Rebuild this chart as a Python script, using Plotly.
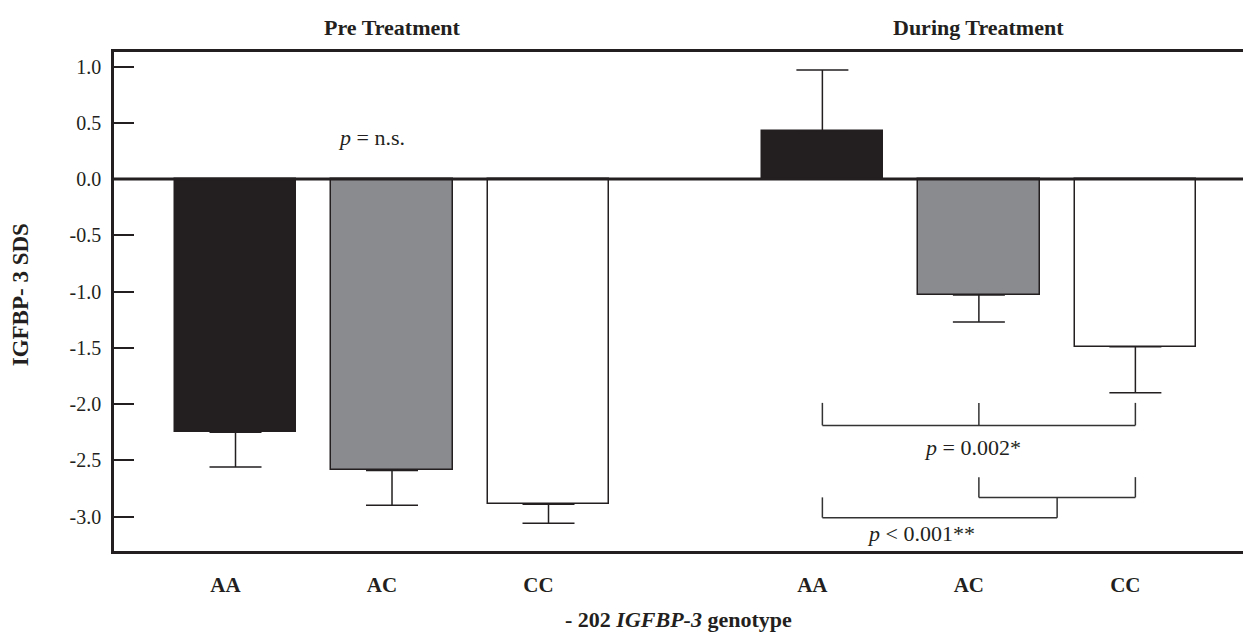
import plotly.graph_objects as go

# ---- data ----
groups = ["Pre Treatment", "During Treatment"]
genotypes = ["AA", "AC", "CC"]
pre_values = [-2.25, -2.59, -2.89]
pre_errors = [0.31, 0.31, 0.17]
during_values = [0.43, -1.03, -1.49]
during_errors = [0.54, 0.24, 0.41]
bar_colors = ["#231f20", "#8a8b8f", "#ffffff"]
y_ticks = [1.0, 0.5, 0.0, -0.5, -1.0, -1.5, -2.0, -2.5, -3.0]

# significance brackets (y levels in SDS units)
br1_top, br1_bot = -1.99, -2.19          # AA / AC / CC  p = 0.002*
br2_top, br2_bot = -2.65, -2.83          # AC - CC
br3_top, br3_bot = -2.83, -3.01          # AA - (AC,CC)  p < 0.001**
p_ns_y = 0.37
p_002_y = -2.39
p_001_y = -3.15

INK = "#231f20"
FONT = "Liberation Serif"

group_gap = 1.75
pos_pre = [i for i in range(len(genotypes))]
pos_dur = [i + len(genotypes) - 1 + group_gap for i in range(len(genotypes))]
positions = pos_pre + pos_dur
values = pre_values + during_values
errors = pre_errors + during_errors
err_plus = [e if v > 0 else 0 for v, e in zip(values, errors)]
err_minus = [e if v < 0 else 0 for v, e in zip(values, errors)]

fig = go.Figure()
fig.add_trace(go.Bar(
    x=positions, y=values, width=0.775,
    marker=dict(color=bar_colors * 2, line=dict(color=INK, width=1.5)),
    error_y=dict(type="data", symmetric=False, array=err_plus, arrayminus=err_minus,
                 color=INK, thickness=1.5, width=26),
    showlegend=False, hoverinfo="skip",
))

shapes = []
def seg(x0, y0, x1, y1):
    shapes.append(dict(type="line", xref="x", yref="y", x0=x0, y0=y0, x1=x1, y1=y1,
                       line=dict(color="#333333", width=1.5), layer="above"))

aa, ac, cc = pos_dur
mid = (ac + cc) / 2
# bracket 1
for xx in (aa, ac, cc):
    seg(xx, br1_top, xx, br1_bot)
seg(aa, br1_bot, cc, br1_bot)
# bracket 2
seg(ac, br2_top, ac, br2_bot)
seg(cc, br2_top, cc, br2_bot)
seg(ac, br2_bot, cc, br2_bot)
# bracket 3
seg(aa, br3_top, aa, br3_bot)
seg(aa, br3_bot, mid, br3_bot)
seg(mid, br3_bot, mid, br3_top)

# zero line
shapes.append(dict(type="line", xref="paper", yref="y", x0=0, x1=1, y0=0, y1=0,
                   line=dict(color=INK, width=3), layer="above"))

def txt(size, color=INK):
    return dict(size=size, color=color, family=FONT)

annotations = [
    dict(x=pos_pre[1], y=1.05, xref="x", yref="paper", text="<b>" + groups[0] + "</b>",
         xanchor="center", yanchor="middle", showarrow=False, font=txt(22)),
    dict(x=pos_dur[1], y=1.05, xref="x", yref="paper", text="<b>" + groups[1] + "</b>",
         xanchor="center", yanchor="middle", showarrow=False, font=txt(22)),
    dict(x=0.87, y=p_ns_y, xref="x", yref="y", text="<i>p</i> = n.s.",
         showarrow=False, font=txt(22)),
    dict(x=(aa + cc) / 2 - 0.04, y=p_002_y, xref="x", yref="y", text="<i>p</i> = 0.002*",
         showarrow=False, font=txt(22)),
    dict(x=aa + 0.63, y=p_001_y, xref="x", yref="y", text="<i>p</i> &lt; 0.001**",
         showarrow=False, font=txt(22)),
    dict(x=0.5, y=-0.138, xref="paper", yref="paper",
         text="<b>- 202 <i>IGFBP-3</i> genotype</b>",
         xanchor="center", yanchor="middle", showarrow=False, font=txt(22)),
    dict(x=-0.083, y=0.513, xref="paper", yref="paper", text="<b>IGFBP- 3 SDS</b>",
         xanchor="center", yanchor="middle", textangle=-90, showarrow=False, font=txt(23)),
]

xmin = -0.7764
xmax = xmin + 1129 / 156.5
fig.update_layout(
    width=1243, height=640,
    margin=dict(l=114, r=0, t=52, b=89, autoexpand=False),
    plot_bgcolor="white", paper_bgcolor="white",
    font=dict(family=FONT, color=INK, size=20),
    shapes=shapes, annotations=annotations,
    bargap=0,
    xaxis=dict(range=[xmin, xmax], tickvals=positions, ticktext=[f"<b>{g}</b>" for g in genotypes * 2],
               showline=True, mirror=True, linecolor=INK, linewidth=2.5, ticks="",
               showgrid=False, zeroline=False, ticklabelstandoff=13, ticklabelshift=-10,
               automargin=False, tickfont=txt(21)),
    yaxis=dict(range=[-(551 - 179) / 112.5, (179 - 52) / 112.5], tickvals=y_ticks,
               ticktext=[f"{t:.1f}" for t in y_ticks],
               showline=True, mirror=False, linecolor=INK, linewidth=2.5,
               ticks="inside", ticklen=20, tickwidth=1.5, tickcolor=INK,
               showgrid=False, zeroline=False, ticklabelstandoff=6,
               automargin=False, tickfont=txt(20)),
)

fig.write_html("out.html", config={"displayModeBar": False},
               post_script="document.body.style.margin='0';")
